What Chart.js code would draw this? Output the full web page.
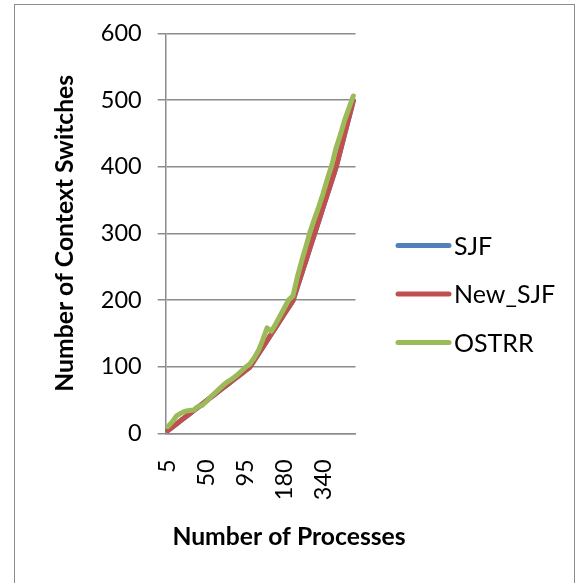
<!DOCTYPE html>
<html>
<head>
<meta charset="utf-8">
<script src="https://cdn.jsdelivr.net/npm/chart.js@4"></script>
<style>
  html, body { margin: 0; padding: 0; background: #ffffff; }
  #wrap { position: relative; width: 578px; height: 583px; overflow: hidden; }
  #frame { position: absolute; left: 14px; top: 4px; width: 561px; height: 640px;
           border: 1.5px solid #8c8c8c; box-sizing: border-box; }
  #c { position: absolute; left: 0; top: 0; }
</style>
</head>
<body>
<div id="wrap">
  <div id="frame"></div>
  <canvas id="c" width="578" height="583"></canvas>
</div>
<script>
// Number of processes in each run (x categories)
const processCounts = [5, 10, 15, 20, 25, 30, 35, 40, 45, 50, 55, 60, 65, 70, 75, 80, 85, 90, 95, 100,
  110, 120, 130, 140, 150, 160, 170, 180, 190, 200,
  220, 240, 260, 280, 300, 320, 340,
  360, 380, 400, 425, 450, 475, 500];

// Context switches per algorithm
const sjfSwitches = [4, 9, 14, 19, 24, 29, 34, 39, 44, 49, 54, 59, 64, 69, 74, 79, 84, 89, 94, 99,
  109, 119, 129, 139, 149, 159, 169, 179, 189, 199,
  219, 239, 259, 279, 299, 319, 339,
  359, 379, 399, 424, 449, 474, 499];
const newSjfSwitches = [4, 9, 14, 19, 24, 29, 34, 39, 44, 49, 54, 59, 64, 69, 74, 79, 84, 89, 94, 99,
  109, 119, 129, 139, 149, 159, 169, 179, 189, 199,
  219, 239, 259, 279, 299, 319, 339,
  359, 379, 399, 424, 449, 474, 499];
const ostrrSwitches = [10, 17, 26, 30, 33, 34, 35, 40, 42, 48, 55, 61, 67, 73, 78, 82, 87, 93, 99, 104,
  113, 124, 140, 158, 153, 164, 176, 188, 200, 206,
  234, 258, 280, 303, 322, 340, 360,
  382, 402, 428, 448, 470, 488, 506];

// Value axis
const yMin = 0;
const yMax = 600;
const yStep = 100;
// Only every n-th process count is printed under the axis
const labelEvery = 9;

const FONT = 'Lato, "Open Sans", sans-serif';
const GRID = '#8c8c8c';

// Draws the series key (line sample + name) to the right of the plot
const seriesKey = {
  id: 'seriesKey',
  afterDraw(chart) {
    const ctx = chart.ctx;
    const rows = [245.5, 294, 342.5];
    ctx.save();
    chart.data.datasets.forEach((ds, i) => {
      const y = rows[i];
      ctx.beginPath();
      ctx.lineWidth = 5;
      ctx.lineCap = 'round';
      ctx.strokeStyle = ds.borderColor;
      ctx.moveTo(398, y);
      ctx.lineTo(449, y);
      ctx.stroke();
      ctx.fillStyle = '#000000';
      ctx.font = '25px ' + FONT;
      ctx.textBaseline = 'middle';
      ctx.textAlign = 'left';
      ctx.fillText(ds.label, 454, y + 1);
    });
    ctx.restore();
  }
};

const lineStyle = {
  borderWidth: 5,
  pointRadius: 0,
  pointHoverRadius: 0,
  tension: 0,
  borderCapStyle: 'round',
  borderJoinStyle: 'round',
  fill: false
};

new Chart(document.getElementById('c'), {
  type: 'line',
  data: {
    labels: processCounts,
    datasets: [
      Object.assign({ label: 'SJF', data: sjfSwitches, borderColor: '#4F81BD', order: 3 }, lineStyle),
      Object.assign({ label: 'New_SJF', data: newSjfSwitches, borderColor: '#C0504D', order: 2 }, lineStyle),
      Object.assign({ label: 'OSTRR', data: ostrrSwitches, borderColor: '#9BBB59', order: 1 }, lineStyle)
    ]
  },
  plugins: [seriesKey],
  options: {
    responsive: false,
    animation: false,
    events: [],
    layout: { padding: { left: 0, right: 0, top: 33.3, bottom: 0 } },
    plugins: {
      legend: { display: false },
      tooltip: { enabled: false },
      title: {
        display: true,
        position: 'bottom',
        text: 'Number of Processes',
        color: '#000000',
        font: { family: FONT, size: 24.7, weight: 'bold', lineHeight: 1.2 },
        padding: { top: 0, bottom: 30.8 }
      }
    },
    scales: {
      x: {
        type: 'category',
        offset: true,
        grid: { display: false, drawTicks: false },
        border: { display: true, color: GRID, width: 1.5 },
        ticks: {
          autoSkip: false,
          minRotation: 90,
          maxRotation: 90,
          padding: 26,
          color: '#000000',
          font: { family: FONT, size: 23.5 },
          callback: function (value, index) {
            return index % labelEvery === 0 ? this.getLabelForValue(value) : '';
          }
        },
        afterFit(scale) { scale.height = 89.3; }
      },
      y: {
        type: 'linear',
        min: yMin,
        max: yMax,
        grid: { color: GRID, lineWidth: 1.5, drawTicks: true, tickLength: 8, tickColor: GRID },
        border: { display: true, color: GRID, width: 1.5 },
        ticks: {
          stepSize: yStep,
          padding: 16,
          color: '#000000',
          font: { family: FONT, size: 23.5 }
        },
        title: {
          display: true,
          text: 'Number of Context Switches',
          color: '#000000',
          font: { family: FONT, size: 24.7, weight: 'bold', lineHeight: 1.2 },
          padding: { top: 50.6, bottom: 0 }
        },
        afterFit(scale) { scale.width = 165.7; }
      },
      keySpace: {
        type: 'linear',
        position: 'right',
        display: true,
        grid: { display: false, drawTicks: false },
        border: { display: false },
        ticks: { display: false },
        afterFit(scale) { scale.width = 222.5; }
      }
    }
  }
});
</script>
</body>
</html>
